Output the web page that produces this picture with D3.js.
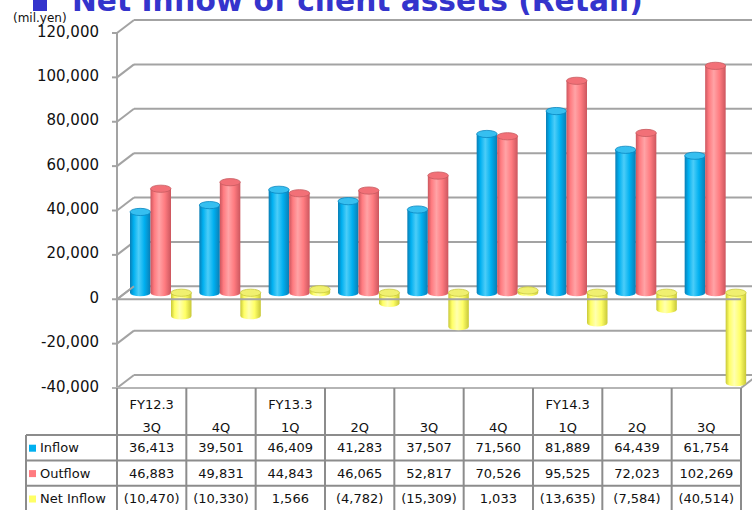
<!DOCTYPE html>
<html>
<head>
<meta charset="utf-8">
<script src="https://cdn.jsdelivr.net/npm/d3@7"></script>
<style>
  html, body { margin: 0; padding: 0; background: #fff; }
  svg { display: block; font-family: "DejaVu Sans", Verdana, sans-serif; }
</style>
</head>
<body>
<svg id="chart" width="752" height="510"></svg>
<script>
// Quarterly client asset flows, retail (million yen)
const fyLabels = ["FY12.3", "", "FY13.3", "", "", "", "FY14.3", "", ""];
const qLabels  = ["3Q", "4Q", "1Q", "2Q", "3Q", "4Q", "1Q", "2Q", "3Q"];
const inflow    = [36413, 39501, 46409, 41283, 37507, 71560, 81889, 64439, 61754];
const outflow   = [46883, 49831, 44843, 46065, 52817, 70526, 95525, 72023, 102269];
const netInflow = [-10470, -10330, 1566, -4782, -15309, 1033, -13635, -7584, -40514];
const seriesNames = ["Inflow", "Outflow", "Net Inflow"];
const yTicks = [120000, 100000, 80000, 60000, 40000, 20000, 0, -20000, -40000];

const series = [inflow, outflow, netInflow];
const palette = [
  { dark: "#0a7db4", base: "#00b0f0", light: "#4ccdf8", top: "#36bff0", rim: "#0a86c0" },
  { dark: "#cc565e", base: "#ff7b80", light: "#ffa3a6", top: "#f27077", rim: "#c65a60" },
  { dark: "#c8c838", base: "#ffff66", light: "#ffffb0", top: "#f0f070", rim: "#c8c840" }
];
const legendColors = ["#00b0f0", "#ff7b80", "#ffff66"];

const locale = d3.formatLocale({ decimal: ".", thousands: ",", grouping: [3], currency: ["", ""], minus: "-" });
const comma = locale.format(",");

const svg = d3.select("#chart");
const gridColor = "#a3a3a3";

// Front plane scales; the back wall and the bar row sit at depth offsets
const x = d3.scaleBand().domain(d3.range(qLabels.length)).range([117, 741]);
const yFront = d3.scaleLinear().domain([-40000, 120000]).range([388, 33]);
const back = { dx: 17, dy: -13 };
const mid = { dx: 8.5, dy: -6.5 };
const yBack = v => yFront(v) + back.dy;
const yMid = v => yFront(v) + mid.dy;
// position of each series' cylinder inside its category (bar-row plane)
const inner = d3.scaleBand().domain([0, 1, 2]).range([4.5, 4.5 + 61.5]);

// Gradients for the cylinders
const defs = svg.append("defs");
palette.forEach((p, k) => {
  const g = defs.append("linearGradient").attr("id", "cyl" + k)
    .attr("x1", "0%").attr("x2", "100%").attr("y1", "0%").attr("y2", "0%");
  [[0, p.dark], [0.18, p.base], [0.42, p.light], [0.7, p.base], [1, p.dark]]
    .forEach(([o, c]) => g.append("stop").attr("offset", o).attr("stop-color", c));
});

// Back wall gridlines and left wall diagonals
const grid = svg.append("g").attr("stroke", gridColor).attr("stroke-width", 2).attr("fill", "none");
yTicks.forEach(v => {
  grid.append("line").attr("x1", x.range()[0] + back.dx).attr("x2", x.range()[1] + back.dx)
    .attr("y1", yBack(v)).attr("y2", yBack(v));
  grid.append("line").attr("x1", x.range()[0]).attr("x2", x.range()[0] + back.dx)
    .attr("y1", yFront(v)).attr("y2", yBack(v));
  grid.append("line").attr("x1", x.range()[0] - 5).attr("x2", x.range()[0])
    .attr("y1", yFront(v)).attr("y2", yFront(v));
});
// Bottom edge on the right side
grid.append("line").attr("x1", x.range()[1]).attr("x2", x.range()[1] + back.dx)
  .attr("y1", yFront(-40000)).attr("y2", yBack(-40000));
// Vertical axis
grid.append("line").attr("x1", x.range()[0]).attr("x2", x.range()[0])
  .attr("y1", yFront(120000)).attr("y2", yFront(-40000));

// Y tick labels
svg.append("g").selectAll("text").data(yTicks).join("text")
  .attr("x", 99).attr("y", d => yFront(d) - 1)
  .attr("text-anchor", "end").attr("dominant-baseline", "middle")
  .attr("font-size", 15).attr("fill", "#111")
  .text(d => comma(d));

svg.append("text").attr("x", 13).attr("y", 18).attr("dominant-baseline", "middle")
  .attr("font-size", 12).attr("fill", "#111").text("(mil.yen)");

// Cylinders
const bars = svg.append("g");
qLabels.forEach((q, i) => {
  series.forEach((s, k) => {
    const v = s[i];
    const p = palette[k];
    const w = inner.bandwidth();
    const rx = w / 2, ry = 3.6;
    const cx = x(i) + inner(k) + mid.dx + rx;
    const yT = yMid(Math.max(v, 0));
    const yB = yMid(Math.min(v, 0));
    const g = bars.append("g");
    g.append("path")
      .attr("d", `M${cx - rx},${yT} L${cx - rx},${yB} A${rx},${ry} 0 0 0 ${cx + rx},${yB} L${cx + rx},${yT} Z`)
      .attr("fill", `url(#cyl${k})`);
    g.append("ellipse").attr("cx", cx).attr("cy", yT).attr("rx", rx).attr("ry", ry)
      .attr("fill", p.top).attr("stroke", p.rim).attr("stroke-width", 0.8);
  });
});

// Floor edge at zero
const floor = svg.append("g").attr("stroke", gridColor).attr("stroke-width", 2);
floor.append("line").attr("x1", x.range()[0]).attr("x2", x.range()[1])
  .attr("y1", yFront(0)).attr("y2", yFront(0));
floor.append("line").attr("x1", x.range()[0]).attr("x2", x.range()[0] + back.dx)
  .attr("y1", yFront(0)).attr("y2", yBack(0));

// Data table
const tableColor = "#8c8c8c";
const rowTop = 435, rowH = 25.4, labelLeft = 26;
const rowYs = [rowTop, rowTop + rowH, rowTop + 2 * rowH, rowTop + 3 * rowH];
const tbl = svg.append("g").attr("stroke", tableColor).attr("stroke-width", 2);
tbl.append("line").attr("x1", x.range()[0] - 5).attr("x2", x.range()[1])
  .attr("y1", yFront(-40000)).attr("y2", yFront(-40000)).attr("stroke", "#b5b5b5");
rowYs.forEach(y => tbl.append("line").attr("x1", labelLeft).attr("x2", x.range()[1])
  .attr("y1", y).attr("y2", y));
d3.range(qLabels.length + 1).forEach(i => {
  const xx = i < qLabels.length ? x(i) : x.range()[1];
  tbl.append("line").attr("x1", xx).attr("x2", xx).attr("y1", yFront(-40000)).attr("y2", 512);
});
tbl.append("line").attr("x1", labelLeft).attr("x2", labelLeft).attr("y1", rowTop).attr("y2", 512);

const txt = svg.append("g").attr("font-size", 13).attr("fill", "#111")
  .attr("dominant-baseline", "middle");
qLabels.forEach((q, i) => {
  const cx = x(i) + x.bandwidth() / 2;
  if (fyLabels[i]) txt.append("text").attr("x", cx).attr("y", 405).attr("text-anchor", "middle").text(fyLabels[i]);
  txt.append("text").attr("x", cx).attr("y", 428).attr("text-anchor", "middle").text(q);
});
const fmt = v => v < 0 ? "(" + comma(-v) + ")" : comma(v);
series.forEach((s, k) => {
  const cy = rowYs[k] + rowH / 2 + 1;
  svg.append("rect").attr("x", 29).attr("y", cy - 4).attr("width", 7).attr("height", 7)
    .attr("fill", legendColors[k]);
  txt.append("text").attr("x", 40).attr("y", cy).text(seriesNames[k]);
  s.forEach((v, i) => {
    txt.append("text").attr("x", x(i) + x.bandwidth() / 2).attr("y", cy)
      .attr("text-anchor", "middle").text(fmt(v));
  });
});

// Title
const titleColor = "#3434cc";
svg.append("rect").attr("x", 33).attr("y", -4).attr("width", 14).attr("height", 15).attr("fill", titleColor);
const title = svg.append("text").attr("x", 72).attr("y", 11)
  .attr("font-size", 30).attr("font-weight", "bold").attr("fill", titleColor)
  .text("Net Inflow of client assets (Retail)");
const len = title.node().getComputedTextLength();
title.attr("font-size", 30 * 571 / len);
</script>
</body>
</html>
